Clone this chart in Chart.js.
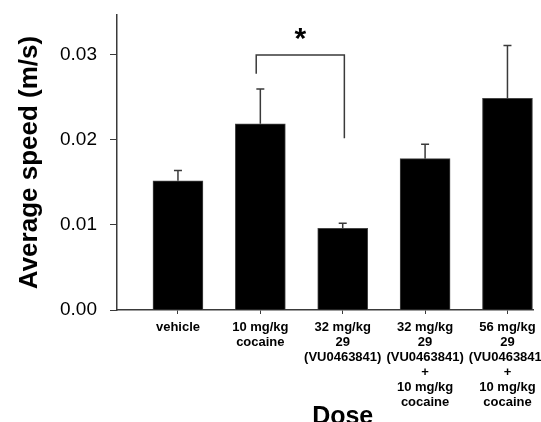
<!DOCTYPE html>
<html>
  <head>
    <title>Average speed by dose</title>
    <script src="https://cdn.jsdelivr.net/npm/chart.js@4/dist/chart.umd.min.js"></script>
    <style>
      body { margin: 0; background: #fff; }
      #wrap { width: 541px; height: 422px; }
    </style>
  </head>
  <body>
    <div id="wrap"><canvas id="myChart"></canvas></div>
    <script>
      // data
      const doseLabels = [
        ["vehicle"],
        ["10 mg/kg", "cocaine"],
        ["32 mg/kg", "29", "(VU0463841)"],
        ["32 mg/kg", "29", "(VU0463841)", "+", "10 mg/kg", "cocaine"],
        ["56 mg/kg", "29", "(VU0463841)", "+", "10 mg/kg", "cocaine"],
      ];
      const meanSpeed = [0.0152, 0.0219, 0.0096, 0.0178, 0.0249];
      const errUpper = [0.0164, 0.0260, 0.0102, 0.0195, 0.0311];
      const yTicks = [0, 0.01, 0.02, 0.03];

      // significance bracket between bars 2 and 3
      const bracketX = [1.95, 3.02];
      const bracketY = 0.0300;
      const bracketLegs = [0.0278, 0.0202];

      const lineColor = "#3a3a3a";
      const font = "'Liberation Sans', Arial, sans-serif";

      const extras = {
        id: "extras",
        afterDatasetsDraw(chart) {
          const { ctx, scales: { x, y } } = chart;
          ctx.save();
          ctx.strokeStyle = lineColor;
          ctx.lineWidth = 1.5;
          // error bars (upper only)
          meanSpeed.forEach((v, i) => {
            const px = x.getPixelForValue(i + 1);
            const top = y.getPixelForValue(errUpper[i]);
            ctx.beginPath();
            ctx.moveTo(px, y.getPixelForValue(v));
            ctx.lineTo(px, top);
            ctx.moveTo(px - 4, top);
            ctx.lineTo(px + 4, top);
            ctx.stroke();
          });
          // bracket
          const lx = x.getPixelForValue(bracketX[0]);
          const rx = x.getPixelForValue(bracketX[1]);
          const by = y.getPixelForValue(bracketY);
          ctx.beginPath();
          ctx.moveTo(lx, y.getPixelForValue(bracketLegs[0]));
          ctx.lineTo(lx, by);
          ctx.lineTo(rx, by);
          ctx.lineTo(rx, y.getPixelForValue(bracketLegs[1]));
          ctx.stroke();
          ctx.fillStyle = "#000";
          ctx.font = "bold 30px " + font;
          ctx.textAlign = "center";
          ctx.textBaseline = "middle";
          ctx.fillText("*", (lx + rx) / 2, by - 15);
          // x axis title
          ctx.font = "bold 25px " + font;
          ctx.textBaseline = "alphabetic";
          ctx.fillText("Dose", x.getPixelForValue(3), 424);
          ctx.restore();
        },
      };

      const ctx = document.getElementById("myChart").getContext("2d");
      new Chart(ctx, {
        type: "bar",
        data: {
          datasets: [
            {
              data: meanSpeed.map((v, i) => ({ x: i + 1, y: v })),
              backgroundColor: "#000",
              borderColor: "#444",
              borderWidth: 1,
              barThickness: 50,
            },
          ],
        },
        options: {
          responsive: true,
          maintainAspectRatio: false,
          animation: false,
          layout: { padding: { top: 15, right: 8, left: 0, bottom: 0 } },
          plugins: { legend: { display: false }, tooltip: { enabled: false } },
          scales: {
            x: {
              type: "linear",
              offset: false,
              min: 0.26,
              max: 5.31,
              afterBuildTicks: (s) => { s.ticks = doseLabels.map((_, i) => ({ value: i + 1 })); },
              afterFit: (s) => { s.height = 112; s.paddingLeft = 0; s.paddingRight = 0; },
              ticks: {
                color: "#000",
                font: { family: font, size: 13, weight: "bold", lineHeight: 1.15 },
                padding: 6,
                maxRotation: 0,
                autoSkip: false,
                callback: (v) => doseLabels[v - 1] || "",
              },
              grid: { drawOnChartArea: false, offset: false, color: lineColor, tickLength: 4 },
              border: { color: lineColor, width: 1.5 },
            },
            y: {
              min: 0,
              max: 0.0347,
              afterBuildTicks: (s) => { s.ticks = yTicks.map((v) => ({ value: v })); },
              afterFit: (s) => { s.width = 117; s.paddingTop = 0; s.paddingBottom = 0; },
              ticks: {
                color: "#000",
                font: { family: font, size: 19 },
                padding: 13,
                callback: (v) => v.toFixed(2),
              },
              grid: { drawOnChartArea: false, color: lineColor, tickLength: 7 },
              border: { color: lineColor, width: 1.5 },
              title: {
                display: true,
                text: "Average speed (m/s)",
                color: "#000",
                font: { family: font, size: 26, weight: "bold" },
                padding: { top: 14, bottom: 0 },
              },
            },
          },
        },
        plugins: [extras],
      });
    </script>
  </body>
</html>
